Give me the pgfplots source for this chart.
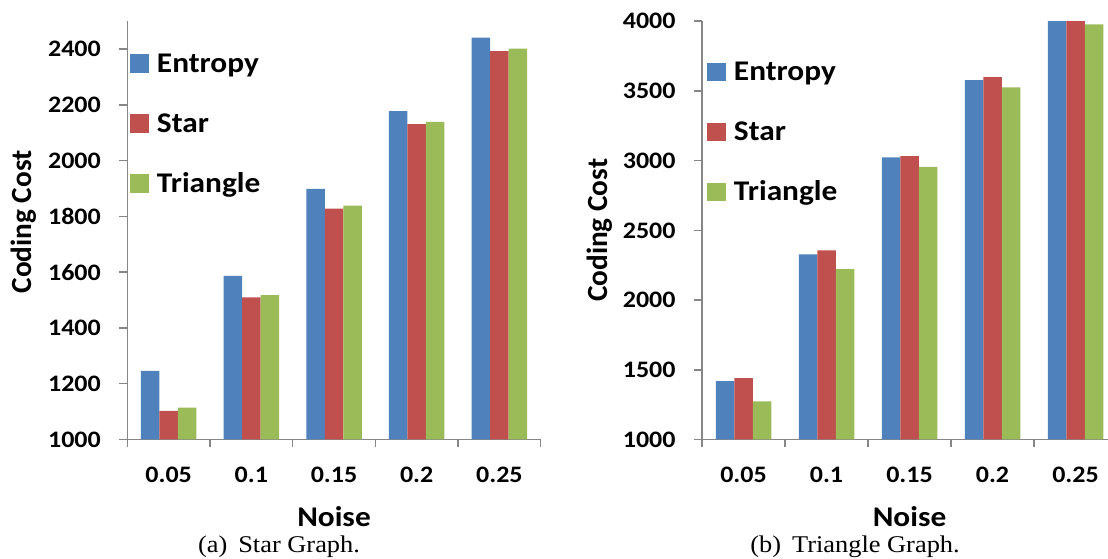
\documentclass[border=0pt]{standalone}
\usepackage{fontspec}
\setmainfont{Carlito}[FakeStretch=1.1]
\newfontfamily\ylabfont{Carlito}
\newfontfamily\capfont{Liberation Serif}[FakeStretch=1.1]
\usepackage{pgfplots}
\usepackage{pgfplotstable}
\pgfplotsset{compat=1.18}

\definecolor{entropy}{HTML}{4F81BD}
\definecolor{star}{HTML}{C0504D}
\definecolor{tri}{HTML}{9BBB59}
\definecolor{axisgray}{HTML}{868686}

% noise index 0..4 = 0.05 ... 0.25
\pgfplotstableread{
x entropy star triangle
0 1246 1103 1114
1 1587 1510 1518
2 1899 1828 1839
3 2178 2131 2139
4 2441 2393 2402
}\stargraph
\pgfplotstableread{
x entropy star triangle
0 1419 1441 1274
1 2328 2356 2222
2 3023 3032 2956
3 3577 3599 3525
4 4000 4000 3978
}\trigraph

\pgfplotsset{
  costbars/.style={
    scale only axis,
    anchor=south west,
    height=167.3pt,
    ybar=0pt, bar width=7.4pt,
    xmin=-0.5, xmax=4.5,
    ymin=1000,
    axis lines=left,
    axis line style={-, draw=axisgray, line width=0.6pt},
    tick style={draw=axisgray, line width=0.6pt},
    tick align=outside,
    major tick length=3.2pt,
    xtick={-0.5,0.5,1.5,2.5,3.5,4.5},
    xticklabels={},
    extra x ticks={0,1,2,3,4},
    extra x tick labels={0.05,0.1,0.15,0.2,0.25},
    extra x tick style={major tick length=0pt,
      xticklabel style={anchor=center, inner sep=0pt, yshift=-14pt}},
    tick label style={font=\fontsize{9.45}{11}\selectfont\bfseries},
    every y tick label/.append style={anchor=east, inner sep=0pt, xshift=-7.2pt},
    /pgf/number format/assume math mode=true,
    /pgf/number format/set thousands separator={},
    xlabel={Noise}, ylabel={Coding Cost},
    xlabel style={font=\fontsize{11.4}{13}\selectfont\bfseries,
      at={(axis description cs:0.5,-0.185)}, anchor=center},
    legend style={draw=none, fill=none, inner sep=0pt, anchor=north west,
      nodes={inner ysep=0pt, inner xsep=3.2pt, text height=15.65pt, text depth=8.35pt,
        font=\fontsize{11.4}{13}\selectfont\bfseries}},
    legend cell align=left,
    legend image code/.code={\fill[##1] (0pt,-3.65pt) rectangle (7.4pt,3.65pt);},
  },
}

\begin{document}
\begin{tikzpicture}
\useasboundingbox (0,0) rectangle (443.2pt,223.6pt);
\clip (0,0) rectangle (443.2pt,223.6pt);

\begin{axis}[costbars,
  at={(50.92pt,47.8pt)}, width=165.36pt,
  ymax=2500, ytick={1000,1200,...,2400},
  ylabel style={font=\ylabfont\fontsize{11.7}{13}\selectfont\bfseries,
    at={(axis description cs:-0.25,0.52)}, anchor=center},
  legend style={at={(axis description cs:0.0065,0.972)}}]
\addplot[fill=entropy, draw=none] table[x=x, y=entropy] {\stargraph};
\addplot[fill=star, draw=none] table[x=x, y=star] {\stargraph};
\addplot[fill=tri, draw=none] table[x=x, y=triangle] {\stargraph};
\legend{Entropy, Star, Triangle}
\end{axis}

\begin{axis}[costbars,
  at={(280.8pt,47.8pt)}, width=166pt,
  ymax=4000, ytick={1000,1500,...,4000},
  ylabel style={font=\ylabfont\fontsize{11.7}{13}\selectfont\bfseries,
    at={(axis description cs:-0.246,0.5)}, anchor=center},
  legend style={at={(axis description cs:0.012,0.952)}}]
\addplot[fill=entropy, draw=none] table[x=x, y=entropy] {\trigraph};
\addplot[fill=star, draw=none] table[x=x, y=star] {\trigraph};
\addplot[fill=tri, draw=none] table[x=x, y=triangle] {\trigraph};
\legend{Entropy, Star, Triangle}
\end{axis}

\node[font=\capfont\fontsize{9.6}{11}\selectfont, anchor=base] at (111.6pt,2.7pt) {(a)\hspace{4.4pt}Star Graph.};
\node[font=\capfont\fontsize{9.6}{11}\selectfont, anchor=base] at (342pt,2.5pt) {(b)\hspace{4.4pt}Triangle Graph.};
\end{tikzpicture}
\end{document}
